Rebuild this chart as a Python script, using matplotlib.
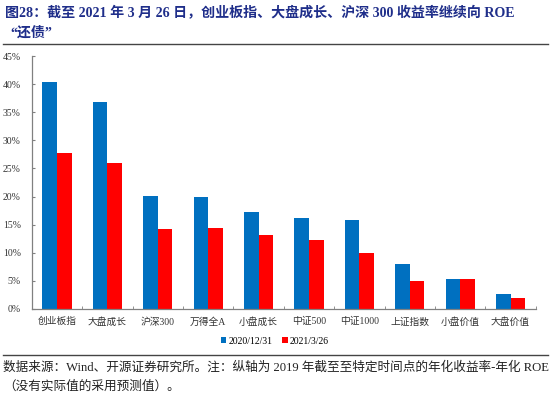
import numpy as np
import matplotlib
matplotlib.use('Agg')
import matplotlib.pyplot as plt
from matplotlib.ticker import PercentFormatter

# --- Données ---
categories = ['创业板指', '大盘成长', '沪深300', '万得全A', '小盘成长',
              '中证500', '中证1000', '上证指数', '小盘价值', '大盘价值']
val_2020 = [40.4, 36.9, 20.1, 19.9, 17.3, 16.2, 15.8, 7.9, 5.4, 2.7]
val_2021 = [27.7, 25.9, 14.3, 14.4, 13.2, 12.2, 9.9, 4.9, 5.4, 2.0]
series_labels = ['2020/12/31', '2021/3/26']
y_ticks = [0, 5, 10, 15, 20, 25, 30, 35, 40, 45]

TITLE_1 = '图28：截至 2021 年 3 月 26 日，创业板指、大盘成长、沪深 300 收益率继续向 ROE'
TITLE_2 = '“还债”'
NOTE_1 = '数据来源：Wind、开源证券研究所。注：纵轴为 2019 年截至至特定时间点的年化收益率-年化 ROE'
NOTE_2 = '（没有实际值的采用预测值）。'

SERIF = ['Liberation Serif', 'Noto Sans CJK SC', 'DejaVu Sans']
plt.rcParams['font.family'] = SERIF

fig = plt.figure(figsize=(5.5, 3.98), dpi=100)
ax = fig.add_axes([0.058, 0.224, 0.916, 0.635])

x = np.arange(len(categories))
w = 0.29
ax.bar(x - w / 2, val_2020, w, color='#0070C0', label=series_labels[0])
ax.bar(x + w / 2, val_2021, w, color='#FF0000', label=series_labels[1])

ax.set_xlim(-0.5, len(categories) - 0.5)
ax.set_ylim(0, 45)
ax.set_yticks(y_ticks)
ax.yaxis.set_major_formatter(PercentFormatter(decimals=0))
ax.set_xticks(x)
ax.set_xticklabels(categories)
ax.set_xticks(np.arange(len(categories) + 1) - 0.5, minor=True)
ax.tick_params(axis='x', which='major', length=0, labelsize=7, colors='#333333', pad=6)
ax.tick_params(axis='x', which='minor', length=2.5, direction='in', color='#808080')
ax.tick_params(axis='y', length=2.5, direction='in', labelsize=7, colors='#333333',
               color='#808080', pad=8)

for s in ['top', 'right']:
    ax.spines[s].set_visible(False)
for s in ['left', 'bottom']:
    ax.spines[s].set_color('#808080')
    ax.spines[s].set_linewidth(0.9)

ax.legend(loc='upper center', bbox_to_anchor=(0.482, -0.095), ncol=2, frameon=False,
          fontsize=7, handlelength=0.6, handleheight=0.6, handletextpad=0.2,
          columnspacing=1.0, borderaxespad=0)

# Titre et notes
fig.text(0.009, 0.968, TITLE_1, fontsize=10.1, fontweight='bold', color='#1F2E8A',
         va='center', ha='left')
fig.text(0.018, 0.918, TITLE_2, fontsize=10.1, fontweight='bold', color='#1F2E8A',
         va='center', ha='left')
fig.add_artist(plt.Line2D([0.005, 0.997], [1 - 44 / 398] * 2, color='#444444', lw=1.0))
fig.add_artist(plt.Line2D([0.005, 0.997], [1 - 355 / 398] * 2, color='#444444', lw=1.0))
fig.text(0.006, 1 - 367 / 398, NOTE_1, fontsize=9.1, color='#222222', va='center', ha='left')
fig.text(0.006, 1 - 387 / 398, NOTE_2, fontsize=9.1, color='#222222', va='center', ha='left')

fig.savefig('out.png', dpi=100)
